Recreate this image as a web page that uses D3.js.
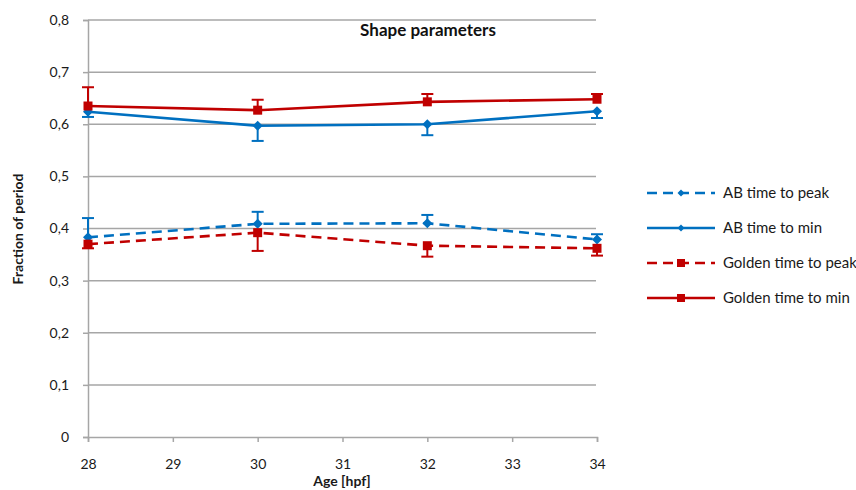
<!DOCTYPE html>
<html>
<head>
<meta charset="utf-8">
<script src="https://cdn.jsdelivr.net/npm/d3@7"></script>
<style>
  html, body { margin: 0; padding: 0; background: #fff; }
  svg { display: block; font-family: Lato, "Open Sans", "Liberation Sans", sans-serif; }
</style>
</head>
<body>
<svg id="chart" width="856" height="490"></svg>
<script>
// Age in hours post fertilization
const ages = [28, 30, 32, 34];
const xTicks = [28, 29, 30, 31, 32, 33, 34];
const yTicks = [0, 0.1, 0.2, 0.3, 0.4, 0.5, 0.6, 0.7, 0.8];

// Series values (fraction of period) and their error magnitudes
const abPeak = [0.383, 0.409, 0.410, 0.379];
const abPeakErr = [0.037, 0.023, 0.016, 0.010];
const abMin = [0.624, 0.597, 0.600, 0.625];
const abMinErr = [0.010, 0.029, 0.021, 0.013];
const goldenPeak = [0.370, 0.392, 0.367, 0.362];
const goldenPeakErr = [0.008, 0.035, 0.021, 0.014];
const goldenMin = [0.635, 0.627, 0.643, 0.648];
const goldenMinErr = [0.036, 0.020, 0.015, 0.010];

const seriesNames = ["AB time to peak", "AB time to min", "Golden time to peak", "Golden time to min"];

const BLUE = "#0070C0", RED = "#C00000";

const series = [
  { name: seriesNames[0], values: abPeak, err: abPeakErr, dir: 1, color: BLUE, dashed: true, marker: "diamond" },
  { name: seriesNames[1], values: abMin, err: abMinErr, dir: -1, color: BLUE, dashed: false, marker: "diamond" },
  { name: seriesNames[2], values: goldenPeak, err: goldenPeakErr, dir: -1, color: RED, dashed: true, marker: "square" },
  { name: seriesNames[3], values: goldenMin, err: goldenMinErr, dir: 1, color: RED, dashed: false, marker: "square" }
];

const svg = d3.select("#chart");
const plot = { left: 88, right: 597, top: 20, bottom: 437 };

const x = d3.scaleLinear().domain([28, 34]).range([plot.left, plot.right]);
const y = d3.scaleLinear().domain([0, 0.8]).range([plot.bottom, plot.top]);

const fmt = v => d3.format(".1~f")(v).replace(".", ",");

// Horizontal gridlines
svg.append("g")
  .selectAll("line")
  .data(yTicks.filter(v => v > 0))
  .join("line")
  .attr("x1", plot.left).attr("x2", plot.right - 1)
  .attr("y1", d => y(d)).attr("y2", d => y(d))
  .attr("stroke", "#a6a6a6").attr("stroke-width", 1.5);

// Y axis
const yAxis = svg.append("g")
  .attr("transform", `translate(${plot.left},0)`)
  .call(d3.axisLeft(y).tickValues(yTicks).tickFormat(fmt).tickSize(5).tickPadding(14));
yAxis.select(".domain").attr("stroke", "#a6a6a6").attr("stroke-width", 1.5);
yAxis.selectAll(".tick line").attr("stroke", "#a6a6a6").attr("stroke-width", 1.5);
yAxis.selectAll(".tick text").attr("font-size", 14).attr("fill", "#1a1a1a")
  .style("font-family", "Lato, 'Open Sans', sans-serif");

// X axis
const xAxis = svg.append("g")
  .attr("transform", `translate(0,${plot.bottom})`)
  .call(d3.axisBottom(x).tickValues(xTicks).tickFormat(d3.format("d")).tickSize(5).tickPadding(17));
xAxis.select(".domain").attr("stroke", "#a6a6a6").attr("stroke-width", 1.5);
xAxis.selectAll(".tick line").attr("stroke", "#a6a6a6").attr("stroke-width", 1.5);
xAxis.selectAll(".tick text").attr("font-size", 14).attr("fill", "#1a1a1a")
  .style("font-family", "Lato, 'Open Sans', sans-serif");

// Axis titles and chart title
svg.append("text")
  .attr("x", 342).attr("y", 486)
  .attr("text-anchor", "middle")
  .attr("font-size", 14).attr("font-weight", "bold").attr("fill", "#1a1a1a")
  .text("Age [hpf]");

svg.append("text")
  .attr("transform", "translate(23,229) rotate(-90)")
  .attr("text-anchor", "middle")
  .attr("font-size", 14).attr("font-weight", "bold").attr("fill", "#1a1a1a")
  .text("Fraction of period");

svg.append("text")
  .attr("x", 428).attr("y", 36)
  .attr("text-anchor", "middle")
  .attr("font-size", 17).attr("font-weight", "bold").attr("fill", "#111")
  .text("Shape parameters");

// Marker drawing helper
function drawMarker(g, type, cx, cy, size, color) {
  if (type === "square") {
    g.append("rect")
      .attr("x", cx - size / 2).attr("y", cy - size / 2)
      .attr("width", size).attr("height", size)
      .attr("fill", color);
  } else {
    const h = size / 2 + 1;
    g.append("path")
      .attr("d", `M${cx},${cy - h}L${cx + h},${cy}L${cx},${cy + h}L${cx - h},${cy}Z`)
      .attr("fill", color);
  }
}

const line = d3.line()
  .x(d => x(d.age))
  .y(d => y(d.v));

// Series lines, error bars and markers
series.forEach(s => {
  const pts = ages.map((a, i) => ({ age: a, v: s.values[i], e: s.err[i] }));
  const g = svg.append("g");

  g.append("path")
    .datum(pts)
    .attr("d", line)
    .attr("fill", "none")
    .attr("stroke", s.color)
    .attr("stroke-width", 2.6)
    .attr("stroke-dasharray", s.dashed ? "10,6" : null);

  pts.forEach(p => {
    const cx = x(p.age);
    const y0 = y(p.v);
    const y1 = y(p.v + s.dir * p.e);
    g.append("line")
      .attr("x1", cx).attr("x2", cx).attr("y1", y0).attr("y2", y1)
      .attr("stroke", s.color).attr("stroke-width", 2);
    g.append("line")
      .attr("x1", cx - 6).attr("x2", cx + 6).attr("y1", y1).attr("y2", y1)
      .attr("stroke", s.color).attr("stroke-width", 2);
    drawMarker(g, s.marker, cx, y0, s.marker === "square" ? 9 : 8, s.color);
  });
});

// Legend
const legend = svg.append("g");
const legendY = [193, 228, 263, 298];
series.forEach((s, i) => {
  const ly = legendY[i];
  legend.append("line")
    .attr("x1", 647).attr("x2", 715).attr("y1", ly).attr("y2", ly)
    .attr("stroke", s.color).attr("stroke-width", 2.6)
    .attr("stroke-dasharray", s.dashed ? "10,6" : null);
  drawMarker(legend, s.marker, 681, ly, s.marker === "square" ? 8 : 5, s.color);
  legend.append("text")
    .attr("x", 723).attr("y", ly)
    .attr("dy", "0.35em")
    .attr("font-size", 15).attr("fill", "#1a1a1a")
    .text(s.name);
});
</script>
</body>
</html>
